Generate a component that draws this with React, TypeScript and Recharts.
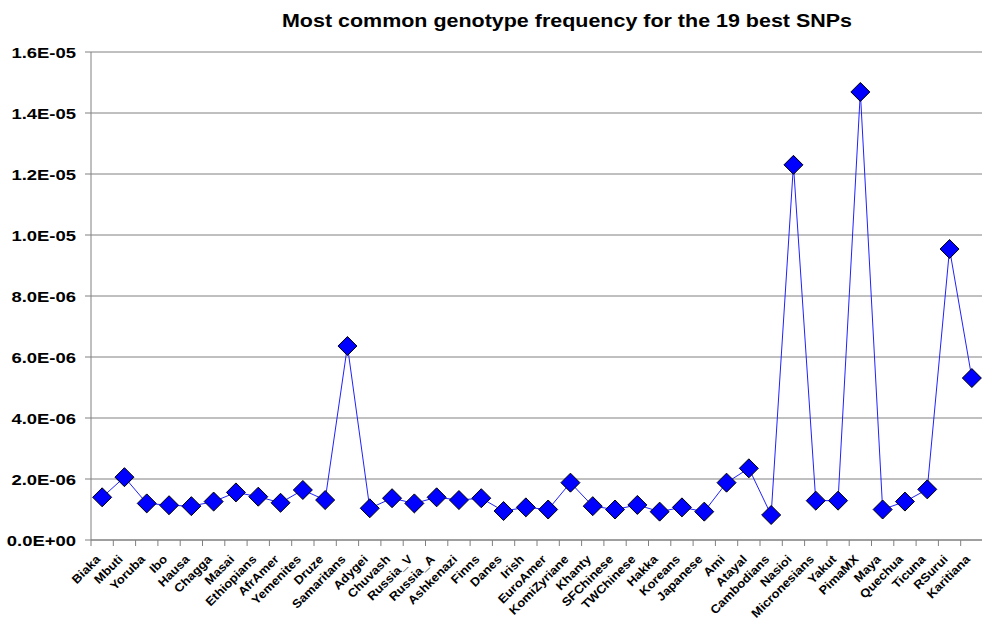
import React from 'react';
import { LineChart, Line, XAxis, YAxis, CartesianGrid } from 'recharts';

const populations = [
  'Biaka', 'Mbuti', 'Yoruba', 'Ibo', 'Hausa', 'Chagga', 'Masai', 'Ethiopians', 'AfrAmer', 'Yemenites',
  'Druze', 'Samaritans', 'Adygei', 'Chuvash', 'Russia_V', 'Russia_A', 'Ashkenazi', 'Finns', 'Danes', 'Irish',
  'EuroAmer', 'KomiZyriane', 'Khanty', 'SFChinese', 'TWChinese', 'Hakka', 'Koreans', 'Japanese', 'Ami', 'Atayal',
  'Cambodians', 'Nasioi', 'Micronesians', 'Yakut', 'PimaMX', 'Maya', 'Quechua', 'Ticuna', 'RSurui', 'Karitiana',
];

const frequencies = [
  1.40e-6, 2.06e-6, 1.20e-6, 1.14e-6, 1.11e-6, 1.26e-6, 1.56e-6, 1.42e-6, 1.22e-6, 1.64e-6,
  1.31e-6, 6.36e-6, 1.04e-6, 1.37e-6, 1.20e-6, 1.40e-6, 1.31e-6, 1.37e-6, 0.95e-6, 1.07e-6,
  1.00e-6, 1.88e-6, 1.11e-6, 1.00e-6, 1.15e-6, 0.93e-6, 1.07e-6, 0.93e-6, 1.88e-6, 2.35e-6,
  0.82e-6, 12.3e-6, 1.29e-6, 1.29e-6, 14.69e-6, 1.00e-6, 1.26e-6, 1.66e-6, 9.54e-6, 5.31e-6,
];

const yTicks = [0, 2e-6, 4e-6, 6e-6, 8e-6, 10e-6, 12e-6, 14e-6, 16e-6];

const title = 'Most common genotype frequency for the 19 best SNPs';

const data = populations.map((name, i) => ({ name, value: frequencies[i] }));

const CHART_W = 1000;
const CHART_H = 620;
const MARGIN = { top: 52, right: 17, bottom: 0, left: 0 };
const Y_AXIS_W = 91;
const X_AXIS_H = 80;
const PLOT_W = CHART_W - MARGIN.left - MARGIN.right - Y_AXIS_W;
const PLOT_BOTTOM = CHART_H - MARGIN.bottom - X_AXIS_H;
const BAND = PLOT_W / populations.length;

const fmt = (v: number) => {
  const [m, e] = v.toExponential(1).split('e');
  const exp = parseInt(e, 10);
  return m + 'E' + (exp < 0 ? '-' : '+') + String(Math.abs(exp)).padStart(2, '0');
};

const FONT = '"Liberation Sans", Arial, Helvetica, sans-serif';

const XTick = (props: any) => {
  const { x, payload, index } = props;
  const left = x - BAND / 2;
  const isLast = index === populations.length - 1;
  return (
    <g>
      <line x1={left} y1={PLOT_BOTTOM} x2={left} y2={PLOT_BOTTOM + 6} stroke="#808080" strokeWidth={1} />
      {isLast && (
        <line x1={x + BAND / 2} y1={PLOT_BOTTOM} x2={x + BAND / 2} y2={PLOT_BOTTOM + 6} stroke="#808080" strokeWidth={1} />
      )}
      <text
        transform={`translate(${x - 1}, ${PLOT_BOTTOM + 20}) rotate(-45) scale(1.08, 1)`}
        textAnchor="end"
        fontFamily={FONT}
        fontWeight="bold"
        fontSize={12}
        fill="#000"
      >
        {payload.value}
      </text>
    </g>
  );
};

const YTick = (props: any) => {
  const { y, payload } = props;
  return (
    <text
      transform={`translate(${MARGIN.left + Y_AXIS_W - 15}, ${y + 5.5}) scale(1.19, 1)`}
      textAnchor="end"
      fontFamily={FONT}
      fontWeight="bold"
      fontSize={15.5}
      fill="#000"
    >
      {fmt(payload.value)}
    </text>
  );
};

const Diamond = (props: any) => {
  const { cx, cy } = props;
  if (cx == null || cy == null) return null;
  const r = 9.5;
  return (
    <polygon
      points={`${cx},${cy - r} ${cx + r},${cy} ${cx},${cy + r} ${cx - r},${cy}`}
      fill="#0000FF"
      stroke="#000"
      strokeWidth={1}
    />
  );
};

export default function App() {
  return (
    <div style={{ position: 'absolute', left: 0, top: 0, width: 982, height: 620, overflow: 'hidden', background: '#fff' }}>
      <LineChart width={CHART_W} height={CHART_H} data={data} margin={MARGIN}>
        <g transform="translate(567, 27) scale(1.13, 1)">
          <text x={0} y={0} textAnchor="middle" fontFamily={FONT} fontWeight="bold" fontSize={19} fill="#000">
            {title}
          </text>
        </g>
        <CartesianGrid vertical={false} stroke="#808080" strokeWidth={1} />
        <XAxis
          dataKey="name"
          interval={0}
          height={X_AXIS_H}
          stroke="#808080"
          tickLine={false}
          padding={{ left: BAND / 2, right: BAND / 2 }}
          tick={<XTick />}
        />
        <YAxis
          width={Y_AXIS_W}
          domain={[0, 1.6e-5]}
          ticks={yTicks}
          stroke="#808080"
          tickSize={6}
          tick={<YTick />}
          allowDataOverflow
        />
        <Line
          type="linear"
          dataKey="value"
          stroke="#2020FF"
          strokeWidth={1}
          dot={<Diamond />}
          activeDot={false}
          isAnimationActive={false}
        />
      </LineChart>
    </div>
  );
}
